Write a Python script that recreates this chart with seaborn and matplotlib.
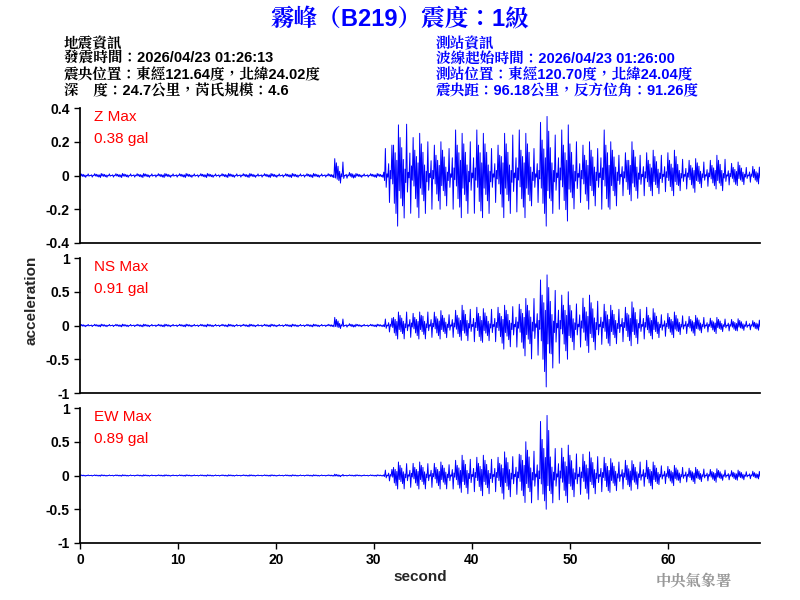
import numpy as np
import pandas as pd
import matplotlib
matplotlib.use("Agg")
import matplotlib.pyplot as plt
import seaborn as sns

# envelope, one value per second (0..69 s)
seconds = np.arange(70)
z_upper = [0.012]*26 + [0.1, 0.02, 0.012, 0.012, 0.012,
           0.2, 0.3, 0.38, 0.25, 0.25, 0.2, 0.2, 0.3, 0.25, 0.3, 0.25, 0.2, 0.25, 0.3, 0.25,
           0.2, 0.35, 0.3, 0.3, 0.25, 0.2, 0.2, 0.3, 0.2, 0.15, 0.2, 0.15, 0.15, 0.15, 0.15,
           0.12, 0.1, 0.1, 0.1, 0.12, 0.08, 0.08, 0.06, 0.05]
z_lower = [-0.012]*26 + [-0.05, -0.02, -0.012, -0.012, -0.012,
           -0.2, -0.3, -0.28, -0.25, -0.25, -0.2, -0.2, -0.25, -0.25, -0.28, -0.25, -0.2, -0.25, -0.27, -0.25,
           -0.2, -0.3, -0.25, -0.27, -0.22, -0.2, -0.2, -0.25, -0.2, -0.15, -0.15, -0.15, -0.12, -0.12, -0.12,
           -0.1, -0.1, -0.08, -0.08, -0.1, -0.07, -0.06, -0.05, -0.05]
ns_upper = [0.02]*26 + [0.12, 0.03, 0.02, 0.02, 0.02,
            0.12, 0.2, 0.25, 0.2, 0.25, 0.22, 0.2, 0.25, 0.3, 0.3, 0.25, 0.3, 0.3, 0.35, 0.4,
            0.5, 0.75, 0.65, 0.5, 0.4, 0.45, 0.45, 0.35, 0.3, 0.3, 0.35, 0.3, 0.25, 0.2, 0.2,
            0.18, 0.15, 0.15, 0.12, 0.12, 0.1, 0.1, 0.08, 0.08]
ns_lower = [-0.02]*26 + [-0.05, -0.03, -0.02, -0.02, -0.02,
            -0.12, -0.2, -0.22, -0.2, -0.22, -0.2, -0.2, -0.22, -0.25, -0.3, -0.25, -0.3, -0.35, -0.4, -0.45,
            -0.55, -0.91, -0.7, -0.5, -0.4, -0.4, -0.4, -0.35, -0.3, -0.3, -0.3, -0.25, -0.2, -0.2, -0.18,
            -0.15, -0.15, -0.12, -0.12, -0.1, -0.1, -0.08, -0.08, -0.07]
ew_upper = [0.01]*26 + [0.02, 0.01, 0.01, 0.01, 0.01,
            0.1, 0.2, 0.22, 0.2, 0.22, 0.2, 0.2, 0.25, 0.3, 0.3, 0.3, 0.3, 0.35, 0.35, 0.5,
            0.45, 0.89, 0.5, 0.45, 0.4, 0.35, 0.35, 0.3, 0.25, 0.25, 0.22, 0.25, 0.2, 0.18, 0.15,
            0.15, 0.12, 0.12, 0.1, 0.1, 0.08, 0.08, 0.07, 0.06]
ew_lower = [-0.01]*26 + [-0.02, -0.01, -0.01, -0.01, -0.01,
            -0.1, -0.2, -0.22, -0.2, -0.22, -0.2, -0.22, -0.25, -0.3, -0.3, -0.3, -0.3, -0.35, -0.35, -0.4,
            -0.45, -0.5, -0.45, -0.4, -0.35, -0.35, -0.3, -0.3, -0.25, -0.25, -0.22, -0.2, -0.2, -0.15, -0.15,
            -0.12, -0.12, -0.1, -0.1, -0.08, -0.08, -0.07, -0.06, -0.05]

channels = ["Z", "NS", "EW"]
max_text = ["0.38 gal", "0.91 gal", "0.89 gal"]
ylims = [(-0.4, 0.4), (-1, 1), (-1, 1)]
yticks = [[-0.4, -0.2, 0, 0.2, 0.4], [-1, -0.5, 0, 0.5, 1], [-1, -0.5, 0, 0.5, 1]]
ytick_labels = [["-0.4", "-0.2", "0", "0.2", "0.4"], ["-1", "-0.5", "0", "0.5", "1"],
                ["-1", "-0.5", "0", "0.5", "1"]]
envelopes = [(z_upper, z_lower), (ns_upper, ns_lower), (ew_upper, ew_lower)]

sns.set_theme(style="ticks")
plt.rcParams['font.family'] = ['Liberation Sans', 'Noto Sans CJK TC', 'DejaVu Sans']
plt.rcParams['font.weight'] = 'bold'
plt.rcParams['axes.labelweight'] = 'bold'
cjk = ['Liberation Sans', 'Noto Serif CJK TC', 'Noto Sans CJK TC', 'DejaVu Sans']

fig = plt.figure(figsize=(8, 6), dpi=100)
rate = 12  # samples per second, zigzag between envelope values
cycle = np.array([1.0, 0.35, 0.75, 0.15, 0.55, 0.9, 0.25, 0.6, 0.1, 0.45, 0.8, 0.3, 0.05])
bottoms = [357, 207, 57]
for k, ch in enumerate(channels):
    up, lo = envelopes[k]
    up_s = np.repeat(up, rate)
    lo_s = np.repeat(lo, rate)
    t = np.arange(len(up_s)) / rate
    scale = np.resize(cycle, len(t))
    scale2 = np.resize(cycle[::-1], len(t))
    sig = np.where(np.arange(len(t)) % 2 == 0, up_s * scale, lo_s * scale2)
    df = pd.DataFrame({"second": t, "acc": sig})
    ax = fig.add_axes([80/800, bottoms[k]/600, 680/800, 135/600])
    sns.lineplot(data=df, x="second", y="acc", ax=ax, color="blue", linewidth=0.7)
    ax.set_xlim(0, 69.4)
    ax.set_ylim(*ylims[k])
    ax.set_yticks(yticks[k])
    ax.set_yticklabels(ytick_labels[k])
    ax.tick_params(labelsize=10, length=4, width=1, colors="black")
    for s in ["top", "right"]:
        ax.spines[s].set_visible(False)
    ax.spines["left"].set_color("black")
    ax.spines["bottom"].set_color("black")
    ax.text(0.02, 0.93, f"{ch} Max", transform=ax.transAxes, color="red", fontsize=11,
            fontweight="normal", va="center")
    ax.text(0.02, 0.77, max_text[k], transform=ax.transAxes, color="red", fontsize=11,
            fontweight="normal", va="center")
    ax.set_ylabel("")
    if k < 2:
        ax.set_xticks([])
        ax.set_xlabel("")
    else:
        ax.set_xticks([0, 10, 20, 30, 40, 50, 60])
        ax.set_xlabel("second", fontsize=11, labelpad=2)

fig.text(0.04, 0.5, "acceleration", rotation=90, va="center", ha="center", fontsize=11)
fig.text(0.5, 0.968, "霧峰（B219）震度：1級", ha="center", va="center", color="blue",
         fontsize=17, fontweight="bold", family=cjk)
left_lines = ["地震資訊", "發震時間：2026/04/23 01:26:13", "震央位置：東經121.64度，北緯24.02度",
              "深　度：24.7公里，芮氏規模：4.6"]
right_lines = ["測站資訊", "波線起始時間：2026/04/23 01:26:00", "測站位置：東經120.70度，北緯24.04度",
               "震央距：96.18公里，反方位角：91.26度"]
for i, (l, r) in enumerate(zip(left_lines, right_lines)):
    y = 0.928 - i * 0.0265
    fig.text(0.08, y, l, fontsize=10.5, va="center", color="black", family=cjk)
    fig.text(0.545, y, r, fontsize=10.5, va="center", color="blue", family=cjk)
fig.text(0.82, 0.032, "中央氣象署", fontsize=11, color="#999999", fontweight="bold",
         va="center", family=cjk)

fig.savefig("out.png", dpi=100)
